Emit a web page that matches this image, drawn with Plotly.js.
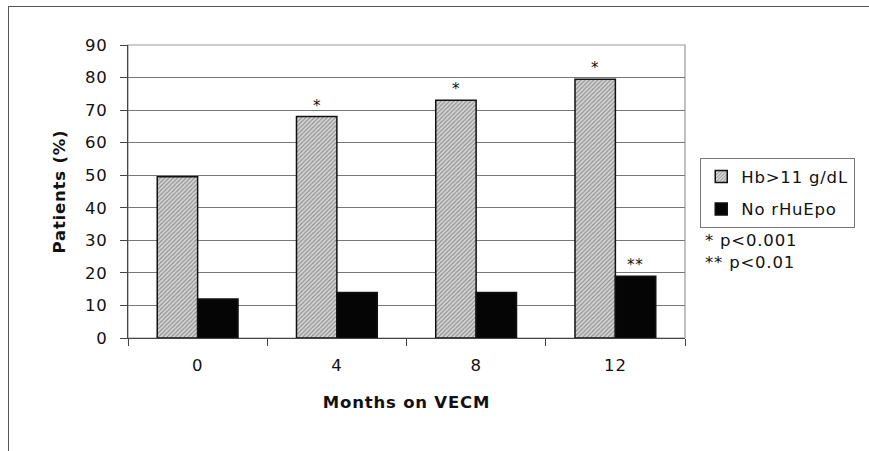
<!DOCTYPE html>
<html><head><meta charset="utf-8">
<script src="https://cdn.plot.ly/plotly-3.0.1.min.js"></script>
<style>body{margin:0;background:#fff}#wrap{position:relative;width:869px;height:451px}#frame{position:absolute;left:8px;top:6px;width:861px;height:445px;border-top:1.5px solid #555;border-left:1.5px solid #555;pointer-events:none}svg text{letter-spacing:0.8px}</style>
</head><body><div id="wrap"><div id="chart" style="width:869px;height:451px"></div><div id="frame"></div></div>
<script>
const categories = ['0', '4', '8', '12'];
const hbValues = [49.5, 68, 73, 79.5];
const noEpoValues = [12, 14, 14, 19];
const hbStars = ['', '*', '*', '*'];
const noEpoStars = ['', '', '', '**'];
const yTicks = [0, 10, 20, 30, 40, 50, 60, 70, 80, 90];

const font = 'DejaVu Sans, Arial, sans-serif';
const fs = 16.5;
const traces = [
  {type: 'bar', name: 'Hb>11 g/dL', x: categories, y: hbValues, legendgroup: 'a',
   marker: {color: '#cfcfcf', line: {color: '#111', width: 1.5},
            pattern: {shape: '/', bgcolor: '#d4d4d4', fgcolor: '#8a8a8a', size: 3, solidity: 0.35}}},
  {type: 'bar', name: 'No rHuEpo', x: categories, y: noEpoValues, legendgroup: 'b',
   marker: {color: '#050505', line: {color: '#111', width: 1.5}}}
];
const annotations = [];
categories.forEach((c, i) => {
  if (hbStars[i]) annotations.push({x: i, y: hbValues[i], text: hbStars[i], xshift: -20, yshift: 11, showarrow: false, font: {size: 15, color: '#111', family: font}});
  if (noEpoStars[i]) annotations.push({x: i, y: noEpoValues[i], text: noEpoStars[i], xshift: 20, yshift: 11, showarrow: false, font: {size: 15, color: '#111', family: font}});
});
annotations.push({xref: 'paper', yref: 'paper', x: 1.032, y: 0.334, xanchor: 'left', yanchor: 'middle', text: '* p<0.001', showarrow: false, font: {size: fs, color: '#111', family: font}});
annotations.push({xref: 'paper', yref: 'paper', x: 1.032, y: 0.259, xanchor: 'left', yanchor: 'middle', text: '** p<0.01', showarrow: false, font: {size: fs, color: '#111', family: font}});

const layout = {
  width: 869, height: 451,
  margin: {l: 128, r: 184, t: 45, b: 113},
  paper_bgcolor: 'rgba(0,0,0,0)', plot_bgcolor: '#fff',
  font: {family: font, size: fs, color: '#111'},
  barmode: 'group', bargap: 0.42, bargroupgap: 0,
  showlegend: true,
  legend: {x: 1.027, y: 0.614, xanchor: 'left', yanchor: 'top', bordercolor: '#777', borderwidth: 1.2,
           font: {size: fs, family: font, color: '#111'}, itemwidth: 30, tracegroupgap: 8},
  xaxis: {type: 'category', range: [-0.5, 3.5], ticks: 'outside', tickson: 'boundaries', ticklen: 7, tickcolor: '#444',
          showline: true, linecolor: '#444', linewidth: 1.2, showgrid: false, ticklabelstandoff: 12,
          title: {text: '<b>Months on VECM</b>', font: {size: fs, family: font}, standoff: 22}},
  yaxis: {range: [0, 90], tickvals: yTicks, ticks: 'outside', ticklen: 7, tickcolor: '#444',
          showline: true, linecolor: '#444', linewidth: 1.2, gridcolor: '#777', gridwidth: 1,
          zeroline: false, ticklabelstandoff: 9,
          title: {text: '<b>Patients (%)</b>', font: {size: fs, family: font}, standoff: 15}},
  shapes: [{type: 'rect', xref: 'paper', yref: 'paper', x0: 0, x1: 1, y0: 0, y1: 1, line: {color: '#999', width: 1.2}, layer: 'below'}],
  annotations: annotations
};
Plotly.newPlot('chart', traces, layout, {displayModeBar: false, staticPlot: true});
</script></body></html>
